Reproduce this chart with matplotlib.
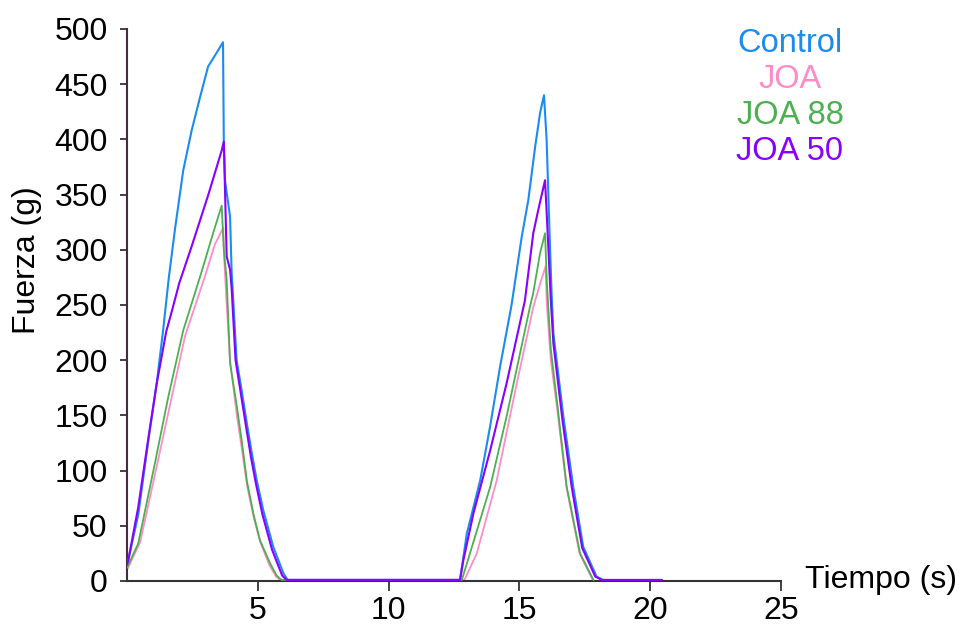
import matplotlib
matplotlib.use("Agg")
import matplotlib.pyplot as plt

plt.rcParams['font.family'] = ['Liberation Sans', 'DejaVu Sans']

# ---- data ----
t_control = [0, 0.05, 0.43, 0.82, 1.13, 1.38, 1.6, 1.83, 2.15, 2.47, 2.79, 3.1, 3.44, 3.67,
             3.70, 3.75, 3.94, 4.0, 4.19, 4.38, 4.58, 4.77, 4.96, 5.21, 5.59, 5.98, 6.14,
             12.73, 12.99, 13.5, 13.88, 14.26, 14.7, 15.09, 15.34, 15.6, 15.79, 15.94,
             16.04, 16.17, 16.23, 16.3, 16.68, 17.06, 17.44, 17.95, 18.2]
y_control = [15, 19, 60, 128, 178, 227, 275, 318, 372, 408, 438, 466, 479, 488,
             400, 362, 330, 280, 200, 173, 143, 116, 91, 64, 31, 7, 1,
             1, 43, 91, 140, 194, 250, 312, 345, 393, 424, 440,
             400, 303, 261, 224, 149, 85, 31, 4, 1]

t_joa = [0, 0.5, 1.1, 1.65, 2.22, 2.98, 3.36, 3.68, 3.72, 3.8, 3.94, 4.2, 4.4, 4.6, 4.85,
         5.1, 5.45, 5.7, 5.85,
         12.9, 13.37, 14.13, 14.9, 15.53, 15.8, 16.0, 16.05, 16.2, 16.45, 16.8, 17.3, 17.8]
y_joa = [10, 35, 100, 160, 222, 276, 305, 320, 290, 255, 200, 150, 118, 85, 57,
         35, 14, 4, 1,
         1, 25, 91, 179, 248, 270, 285, 250, 200, 155, 85, 25, 1]

t_joa88 = [0, 0.43, 1.07, 1.58, 2.15, 2.85, 3.29, 3.62, 3.7, 3.81, 3.94, 4.2, 4.38, 4.58,
           4.83, 5.08, 5.47, 5.72, 5.9,
           12.8, 13.11, 13.88, 14.51, 15.4, 15.53, 15.79, 15.98, 16.05, 16.2, 16.43,
           16.81, 17.32, 17.83]
y_joa88 = [12, 34, 107, 167, 227, 280, 315, 340, 300, 273, 197, 158, 128, 91,
           61, 37, 16, 5, 1,
           1, 25, 85, 149, 248, 261, 297, 315, 270, 210, 164,
           85, 25, 1]

t_joa50 = [0, 0.05, 0.43, 0.82, 1.13, 1.5, 1.71, 2.0, 2.47, 3.11, 3.62, 3.7, 3.81, 3.94, 4.0,
           4.15, 4.35, 4.55, 4.74, 4.93, 5.18, 5.55, 5.93, 6.1,
           12.73, 12.86, 13.24, 13.88, 14.51, 15.21, 15.53, 15.72, 15.98, 16.05, 16.2,
           16.3, 16.65, 17.0, 17.4, 17.9, 18.15, 20.44]
y_joa50 = [15, 19, 67, 130, 178, 226, 244, 270, 303, 350, 390, 398, 294, 282, 265,
           200, 170, 140, 112, 88, 60, 28, 5, 1,
           1, 19, 61, 118, 179, 254, 315, 336, 363, 330, 255,
           215, 145, 85, 30, 4, 1, 1]

series_names = ["Control", "JOA", "JOA 88", "JOA 50"]
series_colors = ["#1a8cf0", "#ff8cc6", "#4cb050", "#8a00ff"]

x_ticks = [5, 10, 15, 20, 25]
y_ticks = [0, 50, 100, 150, 200, 250, 300, 350, 400, 450, 500]

# ---- figure ----
W, H = 961, 627
fig = plt.figure(figsize=(W / 100, H / 100), dpi=100)
ax = fig.add_axes([127 / W, 1 - 581 / H, (781 - 127) / W, (581 - 29) / H])

lw = 1.3
ax.plot(t_joa, y_joa, color=series_colors[1], lw=lw, zorder=2)
ax.plot(t_joa88, y_joa88, color=series_colors[2], lw=lw, zorder=3)
ax.plot(t_control, y_control, color=series_colors[0], lw=lw + 0.2, zorder=4)
ax.plot(t_joa50, y_joa50, color=series_colors[3], lw=lw + 0.2, zorder=5)

ax.set_xlim(0, 25)
ax.set_ylim(0, 500)
ax.set_xticks(x_ticks)
ax.set_yticks(y_ticks)
ax.tick_params(axis='both', labelsize=23, direction='out')
ax.tick_params(axis='x', length=7, width=1.2, pad=4, colors='#222222', labelcolor='black')
ax.tick_params(axis='y', length=5, width=1.2, pad=9, colors='#222222', labelcolor='black')

for s in ['top', 'right']:
    ax.spines[s].set_visible(False)
ax.spines['left'].set_color('#4a2a40')
ax.spines['left'].set_linewidth(1.5)
ax.spines['bottom'].set_color('#333333')
ax.spines['bottom'].set_linewidth(1.5)

fig.text(27 / W, 1 - 260 / H, "Fuerza (g)", rotation=90, ha='center', va='center', fontsize=23)
fig.text(805 / W, 1 - 580 / H, "Tiempo (s)", ha='left', va='center', fontsize=23)

legend_y = [44, 80, 116, 152]
for name, col, yy in zip(series_names, series_colors, legend_y):
    fig.text(790 / W, 1 - yy / H, name, color=col, ha='center', va='center', fontsize=23.5)

fig.savefig("out.png", dpi=100, facecolor='white')
